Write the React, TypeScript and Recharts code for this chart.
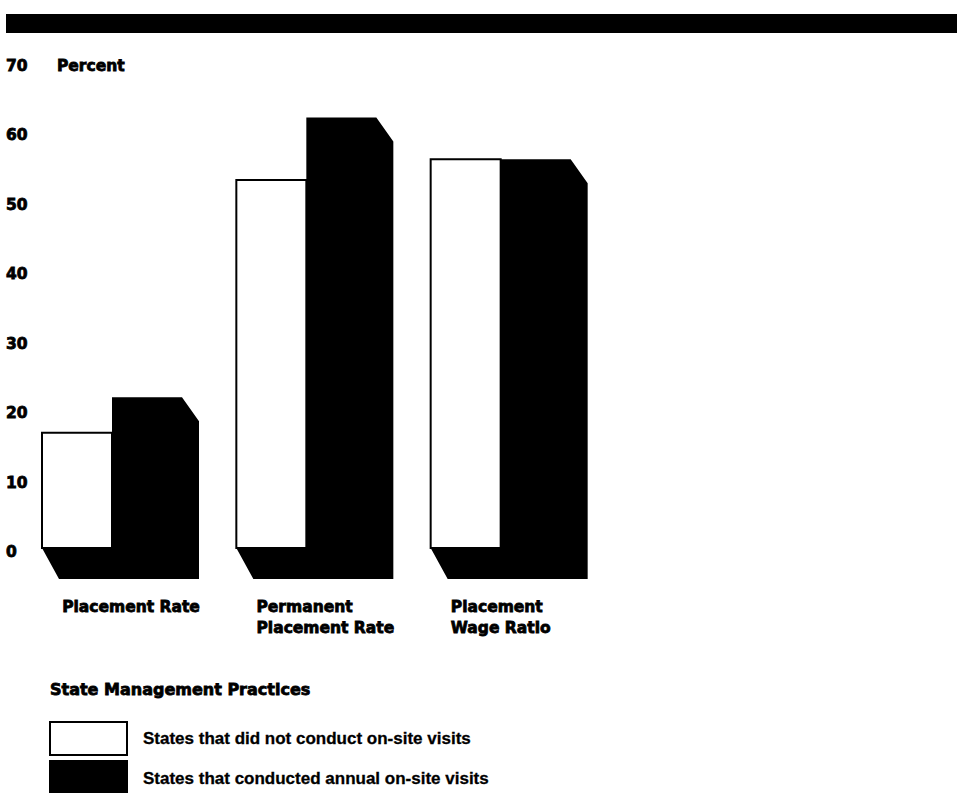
import React from "react";
import { BarChart, Bar, XAxis, YAxis } from "recharts";

// measures along the x axis, each label split into its printed lines
const categories = [
  ["Placement Rate"],
  ["Permanent", "Placement Rate"],
  ["Placement", "Wage Ratio"],
];
const noVisits = [16.6, 53, 56];
const annualVisits = [21.7, 62, 56];
const yTicks = [0, 10, 20, 30, 40, 50, 60, 70];

const seriesNames = {
  noVisits: "States that did not conduct on-site visits",
  annualVisits: "States that conducted annual on-site visits",
};

const data = categories.map((lines, i) => ({
  category: lines.join(" "),
  lines,
  noVisits: noVisits[i],
  annualVisits: annualVisits[i],
}));

const HEAVY = "'DejaVu Sans', sans-serif";
const LIGHT = "'Liberation Sans', Arial, sans-serif";
const HEAVY_SIZE = 15.5;

// depth of the extruded block behind each pair of bars
const DX = 17;
const DY_TOP = 24;
const DY_BOTTOM = 31;

function BlockShape(props: any) {
  const { x, y, width: w, height: h } = props;
  const base = y + h;
  const pts = [
    [x, y],
    [x + w, y],
    [x + w + DX, y + DY_TOP],
    [x + w + DX, base + DY_BOTTOM],
    [x - w + DX, base + DY_BOTTOM],
    [x - w, base],
    [x, base],
  ]
    .map((p) => p.join(","))
    .join(" ");
  return <polygon points={pts} fill="#000" />;
}

const heavyText = {
  fontFamily: HEAVY,
  fontWeight: "bold",
  fontSize: HEAVY_SIZE,
  fill: "#000",
  stroke: "#000",
  strokeWidth: 0.8,
} as const;

function YTick(props: any) {
  const { y, payload } = props;
  return (
    <g>
      <text x={6} y={y + 4} dominantBaseline="central" {...heavyText}>
        {payload.value}
      </text>
      {payload.value === 70 && (
        <text x={57} y={y + 4} dominantBaseline="central" {...heavyText}>
          Percent
        </text>
      )}
    </g>
  );
}

function XTick(props: any) {
  const { x, y, index } = props;
  const lines = categories[index] ?? [];
  return (
    <g>
      {lines.map((line, i) => (
        <text
          key={i}
          x={x - 50}
          y={y + 59 + i * 21}
          dominantBaseline="central"
          {...heavyText}
        >
          {line}
        </text>
      ))}
    </g>
  );
}

function LegendRow({ fill, label, top }: { fill: string; label: string; top: number }) {
  return (
    <div style={{ position: "absolute", left: 49, top, display: "flex", alignItems: "center" }}>
      <div
        style={{
          width: 75,
          height: fill === "#000" ? 34 : 31,
          background: fill,
          border: "2px solid #000",
        }}
      />
      <span
        style={{
          marginLeft: 15,
          fontFamily: LIGHT,
          fontWeight: "bold",
          fontSize: 17,
          color: "#000",
          WebkitTextStroke: "0.3px #000",
        }}
      >
        {label}
      </span>
    </div>
  );
}

export default function App() {
  return (
    <div
      style={{
        position: "absolute",
        left: 0,
        top: 0,
        width: 957,
        height: 793,
        background: "#fff",
        overflow: "hidden",
      }}
    >
      <div
        style={{
          position: "absolute",
          left: 6,
          right: 0,
          top: 14,
          height: 19,
          background: "#000",
        }}
      />
      <BarChart
        width={957}
        height={793}
        data={data}
        margin={{ top: 62, right: 359, bottom: 215, left: 0 }}
        barGap={0}
        barSize={70}
      >
        <YAxis
          width={15}
          domain={[0, 70]}
          ticks={yTicks}
          interval={0}
          axisLine={false}
          tickLine={false}
          tick={<YTick />}
        />
        <XAxis
          dataKey="category"
          height={30}
          axisLine={false}
          tickLine={false}
          tickSize={0}
          tickMargin={0}
          interval={0}
          tick={<XTick />}
        />
        <Bar
          dataKey="noVisits"
          name={seriesNames.noVisits}
          fill="#fff"
          stroke="#000"
          strokeWidth={2}
          isAnimationActive={false}
        />
        <Bar
          dataKey="annualVisits"
          name={seriesNames.annualVisits}
          fill="#000"
          shape={<BlockShape />}
          isAnimationActive={false}
        />
      </BarChart>
      <div
        style={{
          position: "absolute",
          left: 50,
          top: 680,
          fontFamily: HEAVY,
          fontWeight: "bold",
          fontSize: 16,
          color: "#000",
          WebkitTextStroke: "0.8px #000",
        }}
      >
        State Management Practices
      </div>
      <LegendRow fill="#fff" label={seriesNames.noVisits} top={721} />
      <LegendRow fill="#000" label={seriesNames.annualVisits} top={760} />
    </div>
  );
}
